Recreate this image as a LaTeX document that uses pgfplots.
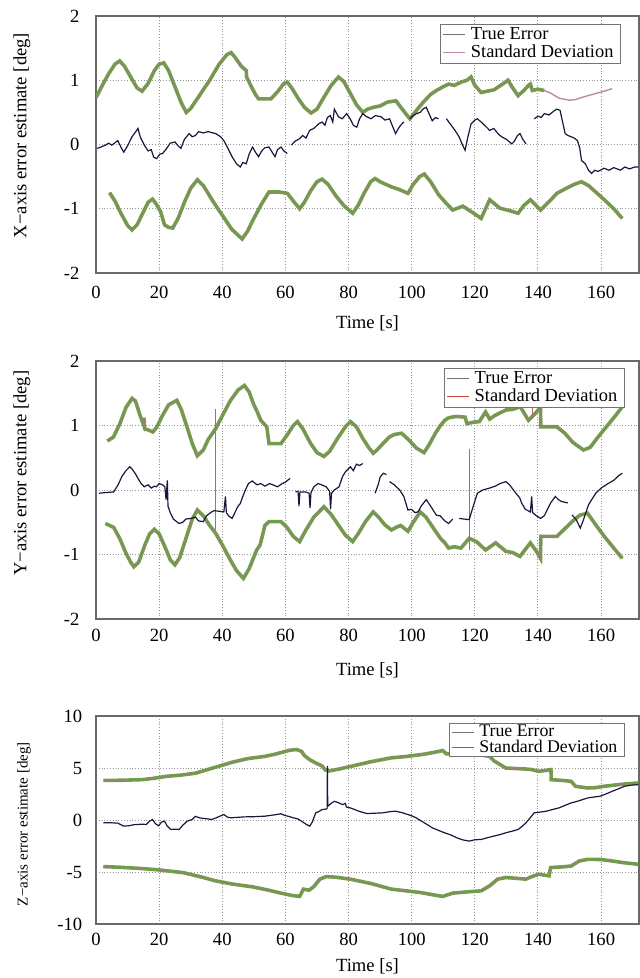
\documentclass[border=0pt]{standalone}
\usepackage{fontspec}
\setmainfont{Liberation Serif}
\usepackage{pgfplots}
\pgfplotsset{compat=1.18}
\definecolor{navy}{RGB}{28,22,62}
\definecolor{sdgreen}{RGB}{112,160,72}
\definecolor{sdthin}{RGB}{150,125,120}
\definecolor{sdpink}{RGB}{190,135,170}
\definecolor{sdred}{RGB}{205,70,60}
\definecolor{sdpurple}{RGB}{150,80,140}
\definecolor{spikec}{RGB}{170,110,100}
\definecolor{gridc}{RGB}{150,150,150}
\definecolor{framec}{RGB}{105,105,105}
\definecolor{legc}{RGB}{115,115,115}
\pgfplotsset{
  panel/.style={
    scale only axis, width=271.5pt, xmin=0, xmax=172,
    anchor=north west,
    xtick={0,20,...,160},
    axis line style={framec, line width=0.9pt},
    grid=major, grid style={gridc, densely dotted, line width=0.5pt},
    major tick length=0pt,
    tick label style={font=\fontsize{9.3}{10}\selectfont},
    /pgf/number format/assume math mode=true,
    label style={font=\fontsize{9.3}{10}\selectfont},
    unbounded coords=jump,
    legend cell align=left,
    legend image code/.code={\draw[##1] (0pt,0pt) -- (11pt,0pt);},
    legend style={draw=legc, line width=0.6pt, fill=white,
      font=\fontsize{9.2}{10}\selectfont, anchor=north east,
      inner xsep=1pt, inner ysep=0.8pt, row sep=0.3pt,
      nodes={inner xsep=2.5pt, inner ysep=0.5pt}},
  },
  sdg/.style={sdgreen, line width=1.8pt, forget plot},
  sdt/.style={sdthin, line width=0.35pt, forget plot},
  te/.style={navy, line width=0.6pt, forget plot},
}
\begin{document}
\begin{tikzpicture}
\useasboundingbox (0,0) rectangle (320pt,-489pt);
% ---------------- Panel 1 : X axis ----------------
\begin{axis}[panel, at={(48pt,-8pt)}, height=128.5pt,
  ymin=-2, ymax=2, ytick={-2,-1,0,1,2},
  xticklabel style={anchor=center, yshift=-9.5pt},
  yticklabel style={anchor=east, xshift=-4.8pt},
  xlabel={Time [s]}, ylabel={X\textminus axis error estimate [deg]},
  xlabel style={at={(axis description cs:0.5,-0.195)}, anchor=center},
  ylabel style={at={(axis description cs:-0.1363,0.535)}, anchor=center, rotate=0},
  legend style={at={(0.967,0.969)}}]
\addplot[sdg] table {
x y
0 0.73
2 0.92
4 1.10
6 1.25
7.5 1.30
9 1.22
11 1.05
13 0.88
14.6 0.83
16.5 0.95
18.5 1.15
20 1.25
21.5 1.27
23 1.15
25 0.90
27 0.65
28.6 0.50
30 0.56
33 0.78
36 1.00
39 1.25
41.5 1.40
42.8 1.43
44 1.36
46 1.22
47.6 1.15
47.7 1.05
49 0.92
50.5 0.78
51.5 0.71
55.4 0.71
57.5 0.82
59.5 0.95
60.6 0.97
62 0.88
64 0.72
66 0.58
68.1 0.49
70 0.55
72 0.72
74.5 0.92
76.8 1.05
78.5 0.98
80.5 0.80
82.5 0.62
84.5 0.50
86 0.55
88 0.58
90 0.60
92.3 0.66
95 0.68
97 0.55
99.4 0.40
101 0.50
103.5 0.65
106 0.78
107.8 0.84
110 0.90
111.7 0.94
113.5 0.92
115.6 0.97
117.5 1.00
118.8 1.05
120 0.92
122 0.81
124 0.83
126 0.85
128.5 0.93
130.5 1.00
132 0.88
133.7 0.76
135.5 0.84
137 0.92
137.6 0.94
138.2 0.84
140 0.86
142 0.84
};
\addplot[sdt] table {
x y
0 0.73
2 0.92
4 1.10
6 1.25
7.5 1.30
9 1.22
11 1.05
13 0.88
14.6 0.83
16.5 0.95
18.5 1.15
20 1.25
21.5 1.27
23 1.15
25 0.90
27 0.65
28.6 0.50
30 0.56
33 0.78
36 1.00
39 1.25
41.5 1.40
42.8 1.43
44 1.36
46 1.22
47.6 1.15
47.7 1.05
49 0.92
50.5 0.78
51.5 0.71
55.4 0.71
57.5 0.82
59.5 0.95
60.6 0.97
62 0.88
64 0.72
66 0.58
68.1 0.49
70 0.55
72 0.72
74.5 0.92
76.8 1.05
78.5 0.98
80.5 0.80
82.5 0.62
84.5 0.50
86 0.55
88 0.58
90 0.60
92.3 0.66
95 0.68
97 0.55
99.4 0.40
101 0.50
103.5 0.65
106 0.78
107.8 0.84
110 0.90
111.7 0.94
113.5 0.92
115.6 0.97
117.5 1.00
118.8 1.05
120 0.92
122 0.81
124 0.83
126 0.85
128.5 0.93
130.5 1.00
132 0.88
133.7 0.76
135.5 0.84
137 0.92
137.6 0.94
138.2 0.84
140 0.86
142 0.84
};
\addplot[sdpink, line width=0.7pt, forget plot] table {
x y
142 0.84
144 0.80
146.7 0.72
149.9 0.69
152 0.70
154.4 0.74
158 0.79
161 0.83
163.5 0.87
};
\addplot[sdg] table {
x y
4.3 -0.75
6 -0.88
8 -1.08
10 -1.26
11.4 -1.33
13 -1.25
15 -1.05
16.5 -0.90
17.9 -0.85
19 -0.92
20.5 -1.05
21.7 -1.25
23 -1.29
24.3 -1.30
26 -1.15
28 -0.90
30 -0.68
32.1 -0.55
34 -0.64
37 -0.88
40 -1.10
43 -1.32
46.3 -1.47
48 -1.35
50 -1.15
52.5 -0.92
54.8 -0.74
58 -0.74
60.6 -0.76
62.5 -0.88
64.5 -1.00
66 -0.90
68 -0.72
70 -0.58
71.6 -0.54
73.5 -0.62
76 -0.80
78.5 -0.95
81.3 -1.07
83 -0.95
85 -0.75
87 -0.58
88.4 -0.53
90 -0.58
93.6 -0.66
96 -0.70
98.8 -0.76
100.5 -0.62
102.5 -0.50
104 -0.46
106 -0.58
108.5 -0.78
111 -0.92
113 -1.02
116.2 -0.96
119 -1.05
122 -1.15
124.7 -0.86
127.9 -0.99
131 -1.03
133.7 -1.07
135.5 -0.95
137.6 -0.86
140.8 -1.02
144.1 -0.86
146 -0.76
149 -0.68
151.5 -0.62
153.8 -0.58
156 -0.64
158.3 -0.74
161 -0.86
164 -1.00
166.7 -1.15
};
\addplot[sdt] table {
x y
4.3 -0.75
6 -0.88
8 -1.08
10 -1.26
11.4 -1.33
13 -1.25
15 -1.05
16.5 -0.90
17.9 -0.85
19 -0.92
20.5 -1.05
21.7 -1.25
23 -1.29
24.3 -1.30
26 -1.15
28 -0.90
30 -0.68
32.1 -0.55
34 -0.64
37 -0.88
40 -1.10
43 -1.32
46.3 -1.47
48 -1.35
50 -1.15
52.5 -0.92
54.8 -0.74
58 -0.74
60.6 -0.76
62.5 -0.88
64.5 -1.00
66 -0.90
68 -0.72
70 -0.58
71.6 -0.54
73.5 -0.62
76 -0.80
78.5 -0.95
81.3 -1.07
83 -0.95
85 -0.75
87 -0.58
88.4 -0.53
90 -0.58
93.6 -0.66
96 -0.70
98.8 -0.76
100.5 -0.62
102.5 -0.50
104 -0.46
106 -0.58
108.5 -0.78
111 -0.92
113 -1.02
116.2 -0.96
119 -1.05
122 -1.15
124.7 -0.86
127.9 -0.99
131 -1.03
133.7 -1.07
135.5 -0.95
137.6 -0.86
140.8 -1.02
144.1 -0.86
146 -0.76
149 -0.68
151.5 -0.62
153.8 -0.58
156 -0.64
158.3 -0.74
161 -0.86
164 -1.00
166.7 -1.15
};
\addplot[te] table {
x y
0.4 -0.06
1.5 -0.04
3 -0.01
4 0.02
5 -0.01
6.9 0.06
8 -0.05
8.8 -0.12
10 -0.02
11.4 0.12
12.3 0.18
13.3 0.25
14 0.12
15.3 -0.01
16.5 -0.10
17.5 -0.08
18.3 -0.20
19.2 -0.22
20.2 -0.15
21.1 -0.14
22.4 -0.06
23.5 0.02
25 0.04
26 -0.02
26.9 -0.06
28 0.08
29.5 0.17
30.5 0.12
31.5 0.14
32.5 0.20
34 0.18
35.5 0.20
37.9 0.17
39.5 0.12
40.5 0.06
41.8 -0.06
43.1 -0.19
44.5 -0.30
45.7 -0.35
46.5 -0.28
47.6 -0.30
48.5 -0.15
49.6 -0.04
50.5 -0.12
51.5 -0.19
52.5 -0.10
53.5 -0.05
54.8 -0.04
55.8 -0.12
56.7 -0.19
57.5 -0.08
58.6 -0.04
59.5 -0.10
60.6 -0.14
nan nan
61.9 -0.01
63 0.05
64.5 0.09
65.5 0.14
66.5 0.10
67.7 0.22
69 0.25
70.5 0.32
71.6 0.35
72.5 0.30
73.3 0.42
74.2 0.45
75 0.35
75.5 0.55
76.8 0.43
78 0.40
79.4 0.48
80.5 0.40
81.5 0.30
82.6 0.27
83.5 0.40
84.5 0.48
85.5 0.44
87.1 0.40
88.5 0.45
90.4 0.43
91.5 0.38
93 0.40
93.8 0.30
94.9 0.17
95.8 0.25
96.5 0.30
97.5 0.35
nan nan
99.4 0.40
100.5 0.45
101.5 0.48
102.7 0.50
103.5 0.55
104.6 0.58
105.5 0.48
106.5 0.37
107.5 0.42
108.5 0.40
nan nan
111 0.40
112.5 0.30
113.7 0.22
115 0.12
116.2 -0.02
116.9 -0.09
117.8 0.12
118.8 0.32
120 0.38
120.8 0.40
122 0.35
123.5 0.28
124.7 0.22
126 0.25
127.5 0.16
128.5 0.12
130 0.08
131.7 0.01
132.5 0.05
133.5 0.14
134.3 0.17
135.2 0.08
136.2 0.01
nan nan
138.8 0.40
140 0.44
141 0.42
142 0.48
143.5 0.46
145 0.52
146 0.55
147 0.53
147.8 0.35
148.6 0.17
149.5 0.14
150.5 0.12
151.5 0.10
152.5 0.06
153.2 -0.05
153.8 -0.25
155 -0.30
156 -0.40
157 -0.45
158 -0.40
159 -0.42
160.9 -0.37
162.5 -0.40
164 -0.36
166.1 -0.40
167.5 -0.35
169 -0.38
170.6 -0.35
171.8 -0.35
};
\addlegendimage{legc, line width=0.6pt}
\addlegendentry{True Error}
\addlegendimage{sdpink, line width=0.6pt}
\addlegendentry{Standard Deviation}
\end{axis}
% ---------------- Panel 2 : Y axis ----------------
\begin{axis}[panel, at={(48pt,-180.5pt)}, height=129pt,
  ymin=-2, ymax=2, ytick={-2,-1,0,1,2},
  xticklabel style={anchor=center, yshift=-8pt},
  yticklabel style={anchor=east, xshift=-4.8pt},
  xlabel={Time [s]}, ylabel={Y\textminus axis error estimate [deg]},
  xlabel style={at={(axis description cs:0.5,-0.198)}, anchor=center},
  ylabel style={at={(axis description cs:-0.1363,0.565)}, anchor=center},
  legend style={at={(0.974,0.973)}}]
\addplot[sdg] table {
x y
3.6 0.76
5.5 0.82
7.5 1.02
9.5 1.28
11.4 1.42
12.5 1.38
14 1.15
15 1.02
15.2 1.12
15.4 0.95
16.6 0.93
18 0.90
19.2 0.97
21 1.15
23 1.32
25.6 1.39
27 1.25
29 0.95
30.5 0.72
32.1 0.53
34 0.62
35.5 0.78
37.9 0.95
40 1.15
42.5 1.38
45 1.55
47 1.62
48.5 1.52
50 1.32
51 1.22
52.2 1.08
54.1 0.98
54.8 0.72
58.6 0.72
60.5 0.85
62.5 1.00
63.8 1.06
65.5 0.95
68 0.72
70 0.58
72.2 0.52
74 0.60
76.5 0.80
79 0.98
80.6 1.06
82.5 0.98
84.5 0.80
86.5 0.65
87.8 0.57
89 0.62
90.5 0.70
92.9 0.82
94.5 0.86
96.8 0.88
99 0.78
101.5 0.65
103.9 0.58
105.5 0.70
107.5 0.88
109.1 1.00
110.5 1.08
111.7 1.12
114 1.14
116.9 1.13
117.5 1.03
119.5 1.05
121.4 1.06
123.4 1.21
124.7 1.10
126.5 1.16
129.8 1.24
132 1.25
134.4 1.29
135.5 1.20
137 1.08
139 1.18
140.8 1.28
140.9 0.98
146 0.98
148.5 0.88
151 0.74
154.4 0.62
156.5 0.66
159 0.82
162 1.00
164.5 1.15
166.7 1.29
};
\addplot[sdt] table {
x y
3.6 0.76
5.5 0.82
7.5 1.02
9.5 1.28
11.4 1.42
12.5 1.38
14 1.15
15 1.02
15.2 1.12
15.4 0.95
16.6 0.93
18 0.90
19.2 0.97
21 1.15
23 1.32
25.6 1.39
27 1.25
29 0.95
30.5 0.72
32.1 0.53
34 0.62
35.5 0.78
37.9 0.95
40 1.15
42.5 1.38
45 1.55
47 1.62
48.5 1.52
50 1.32
51 1.22
52.2 1.08
54.1 0.98
54.8 0.72
58.6 0.72
60.5 0.85
62.5 1.00
63.8 1.06
65.5 0.95
68 0.72
70 0.58
72.2 0.52
74 0.60
76.5 0.80
79 0.98
80.6 1.06
82.5 0.98
84.5 0.80
86.5 0.65
87.8 0.57
89 0.62
90.5 0.70
92.9 0.82
94.5 0.86
96.8 0.88
99 0.78
101.5 0.65
103.9 0.58
105.5 0.70
107.5 0.88
109.1 1.00
110.5 1.08
111.7 1.12
114 1.14
116.9 1.13
117.5 1.03
119.5 1.05
121.4 1.06
123.4 1.21
124.7 1.10
126.5 1.16
129.8 1.24
132 1.25
134.4 1.29
135.5 1.20
137 1.08
139 1.18
140.8 1.28
140.9 0.98
146 0.98
148.5 0.88
151 0.74
154.4 0.62
156.5 0.66
159 0.82
162 1.00
164.5 1.15
166.7 1.29
};
\addplot[sdg] table {
x y
3 -0.52
5.6 -0.58
7.5 -0.75
9.5 -0.98
11 -1.12
12 -1.19
13.5 -1.12
15.5 -0.85
17 -0.68
18.5 -0.61
20 -0.68
22 -0.90
23.5 -1.08
25 -1.16
26.5 -1.05
28.5 -0.75
30.5 -0.45
32.1 -0.31
34 -0.40
36 -0.55
37.9 -0.67
40 -0.85
42.5 -1.08
44.5 -1.25
46.7 -1.37
48.5 -1.22
50.9 -0.93
52 -0.85
53.5 -0.55
54.8 -0.49
58.6 -0.49
60.5 -0.58
62.5 -0.72
64.5 -0.80
66.5 -0.62
69 -0.42
72.2 -0.26
74.5 -0.38
77 -0.56
79 -0.70
81.3 -0.80
83 -0.68
85.5 -0.48
87.8 -0.34
89.5 -0.42
91.5 -0.54
93.6 -0.62
95 -0.58
96.5 -0.55
98.8 -0.64
100.5 -0.50
102.7 -0.34
104.5 -0.42
107 -0.60
109.1 -0.75
110.5 -0.82
111.7 -0.90
113.5 -0.88
115.6 -0.90
118.2 -0.75
120.5 -0.80
123.4 -0.93
126.6 -0.82
129.8 -0.95
132 -0.97
134.3 -1.03
136 -0.92
137.6 -0.82
139.5 -0.95
140.8 -1.06
140.9 -0.72
146 -0.72
148.5 -0.60
151 -0.48
153.3 -0.39
155.7 -0.36
158 -0.52
161 -0.72
164 -0.90
166.7 -1.06
};
\addplot[sdt] table {
x y
3 -0.52
5.6 -0.58
7.5 -0.75
9.5 -0.98
11 -1.12
12 -1.19
13.5 -1.12
15.5 -0.85
17 -0.68
18.5 -0.61
20 -0.68
22 -0.90
23.5 -1.08
25 -1.16
26.5 -1.05
28.5 -0.75
30.5 -0.45
32.1 -0.31
34 -0.40
36 -0.55
37.9 -0.67
40 -0.85
42.5 -1.08
44.5 -1.25
46.7 -1.37
48.5 -1.22
50.9 -0.93
52 -0.85
53.5 -0.55
54.8 -0.49
58.6 -0.49
60.5 -0.58
62.5 -0.72
64.5 -0.80
66.5 -0.62
69 -0.42
72.2 -0.26
74.5 -0.38
77 -0.56
79 -0.70
81.3 -0.80
83 -0.68
85.5 -0.48
87.8 -0.34
89.5 -0.42
91.5 -0.54
93.6 -0.62
95 -0.58
96.5 -0.55
98.8 -0.64
100.5 -0.50
102.7 -0.34
104.5 -0.42
107 -0.60
109.1 -0.75
110.5 -0.82
111.7 -0.90
113.5 -0.88
115.6 -0.90
118.2 -0.75
120.5 -0.80
123.4 -0.93
126.6 -0.82
129.8 -0.95
132 -0.97
134.3 -1.03
136 -0.92
137.6 -0.82
139.5 -0.95
140.8 -1.06
140.9 -0.72
146 -0.72
148.5 -0.60
151 -0.48
153.3 -0.39
155.7 -0.36
158 -0.52
161 -0.72
164 -0.90
166.7 -1.06
};
\addplot[spikec, line width=0.5pt, forget plot] table {
x y
37.9 1.26
37.9 -0.62
nan nan
118.2 0.64
118.2 -0.93
nan nan
138.2 1.10
138.2 1.39
};
\addplot[te] table {
x y
1 -0.05
3 -0.04
5.6 -0.03
7 0.08
8.2 0.21
9.5 0.30
10.7 0.36
11.5 0.32
12.5 0.25
13.3 0.18
14.3 0.10
15.3 0.05
16.5 0.08
17.5 0.03
18.5 0.06
19.2 0.05
20 0.10
21.1 0.08
21.8 0.05
22.2 -0.15
22.6 0.15
22.8 -0.25
23.5 -0.35
24.5 -0.45
26.3 -0.52
27.5 -0.50
28.5 -0.45
30.2 -0.44
31.5 -0.42
32.5 -0.48
34 -0.49
35 -0.40
36.6 -0.34
37.5 -0.32
39 -0.33
40.5 -0.34
41 -0.10
41.3 -0.35
42 -0.40
43.1 -0.44
44 -0.35
45 -0.25
45.7 -0.21
46.5 -0.10
47.5 0.02
48.3 0.10
49.5 0.14
51 0.08
52.2 0.10
53.5 0.06
55 0.10
56 0.08
57.5 0.05
59 0.10
59.9 0.12
61.5 0.18
nan nan
63.2 -0.03
64 -0.02
64.3 -0.25
64.6 -0.03
66.4 -0.03
67.5 -0.05
67.8 -0.28
68.1 -0.04
69 0.05
70.3 0.10
71.5 0.08
72.9 0.05
74 -0.02
74.3 -0.30
74.6 -0.05
75.5 0.00
77 0.05
78.1 0.21
79 0.28
80.6 0.36
81.5 0.30
82.5 0.40
83.5 0.38
84.5 0.41
nan nan
88.4 -0.05
89.5 0.10
90 0.20
91 0.26
92 0.24
nan nan
93 0.13
94.5 0.08
96.2 0.00
97.5 -0.10
98.8 -0.31
100 -0.30
101 -0.35
102 -0.34
103 -0.25
104.6 -0.15
106 -0.25
107.8 -0.39
109 -0.40
110.5 -0.48
111.7 -0.52
113 -0.45
nan nan
115 -0.44
116.5 -0.45
118.2 -0.46
119.5 -0.25
120.8 -0.05
122.5 0.00
124.7 0.03
126.5 0.06
128 0.10
129.8 0.13
131 0.08
133 -0.05
134.2 -0.12
134.9 -0.21
136 -0.30
137.6 -0.34
138 -0.10
138.3 -0.35
139.5 -0.40
140.8 -0.44
142 -0.40
142.9 -0.31
144 -0.20
145.5 -0.10
146.5 -0.15
147.5 -0.18
149.5 -0.20
nan nan
150.8 -0.39
152 -0.45
153.4 -0.59
154.5 -0.45
156 -0.23
157 -0.15
158.3 -0.05
160 0.03
162.2 0.10
164 0.15
165.5 0.22
166.7 0.26
};
\addlegendimage{legc, line width=0.6pt}
\addlegendentry{True Error}
\addlegendimage{sdred, line width=0.6pt}
\addlegendentry{Standard Deviation}
\end{axis}
% ---------------- Panel 3 : Z axis ----------------
\begin{axis}[panel, at={(48pt,-358pt)}, height=104pt,
  ymin=-10, ymax=10, ytick={-10,-5,0,5,10},
  xticklabel style={anchor=center, yshift=-7.5pt},
  yticklabel style={anchor=east, xshift=-3.4pt},
  xlabel={Time [s]}, ylabel={Z\textminus axis error estimate [deg]},
  xlabel style={at={(axis description cs:0.5,-0.202)}, anchor=center},
  ylabel style={at={(axis description cs:-0.1326,0.48)}, anchor=center,
    font=\fontsize{7.5}{8}\selectfont},
  legend style={at={(0.974,0.966)}, font=\fontsize{8.9}{9.5}\selectfont,
    row sep=-0.6pt, inner ysep=0.4pt, nodes={inner xsep=2.5pt, inner ysep=0.3pt}}]
\addplot[sdg] table {
x y
2.3 3.81
8 3.82
14.6 3.88
18 4.00
22.4 4.20
27 4.32
31.5 4.50
37 5.00
43.1 5.55
48 5.90
53.5 6.12
57 6.35
61.2 6.70
63.5 6.78
65.1 6.60
66 6.20
67.7 5.80
69.5 5.50
71.6 5.20
72.5 4.85
73.5 4.70
77 4.90
81.9 5.24
87 5.60
93.6 5.98
98 6.10
104 6.33
107 6.50
109.8 6.68
111 6.36
115.6 6.33
120 6.28
122 6.25
124.7 6.12
126 5.70
127.2 5.48
129.8 5.00
133 4.95
136.2 4.90
138 4.85
140.2 4.68
142 4.75
144.1 4.84
144.2 3.88
148 3.80
150.5 3.72
151.9 3.24
155.7 3.08
158 3.10
160.9 3.24
164 3.35
167 3.45
171.8 3.56
};
\addplot[sdt] table {
x y
2.3 3.81
8 3.82
14.6 3.88
18 4.00
22.4 4.20
27 4.32
31.5 4.50
37 5.00
43.1 5.55
48 5.90
53.5 6.12
57 6.35
61.2 6.70
63.5 6.78
65.1 6.60
66 6.20
67.7 5.80
69.5 5.50
71.6 5.20
72.5 4.85
73.5 4.70
77 4.90
81.9 5.24
87 5.60
93.6 5.98
98 6.10
104 6.33
107 6.50
109.8 6.68
111 6.36
115.6 6.33
120 6.28
122 6.25
124.7 6.12
126 5.70
127.2 5.48
129.8 5.00
133 4.95
136.2 4.90
138 4.85
140.2 4.68
142 4.75
144.1 4.84
144.2 3.88
148 3.80
150.5 3.72
151.9 3.24
155.7 3.08
158 3.10
160.9 3.24
164 3.35
167 3.45
171.8 3.56
};
\addplot[sdg] table {
x y
2.3 -4.48
8 -4.55
14.6 -4.67
20 -4.80
27.6 -5.06
33 -5.45
37.9 -5.85
43 -6.15
49.6 -6.43
54 -6.70
58.6 -7.03
62 -7.25
64.5 -7.35
65.7 -6.65
67.5 -6.75
69 -6.40
70.9 -5.69
72.9 -5.44
76 -5.50
80.6 -5.69
87 -6.10
93.6 -6.65
98 -6.80
102.7 -6.97
106 -7.15
109.8 -7.35
113 -7.03
118 -6.90
122 -6.81
124.7 -6.33
127.2 -5.69
129.8 -5.53
133 -5.60
136.2 -5.69
138 -5.45
140.2 -5.21
143.5 -5.37
144 -4.57
148 -4.50
150.5 -4.42
153.1 -3.94
155.7 -3.78
160 -3.80
163.5 -3.94
167 -4.10
171.8 -4.26
};
\addplot[sdt] table {
x y
2.3 -4.48
8 -4.55
14.6 -4.67
20 -4.80
27.6 -5.06
33 -5.45
37.9 -5.85
43 -6.15
49.6 -6.43
54 -6.70
58.6 -7.03
62 -7.25
64.5 -7.35
65.7 -6.65
67.5 -6.75
69 -6.40
70.9 -5.69
72.9 -5.44
76 -5.50
80.6 -5.69
87 -6.10
93.6 -6.65
98 -6.80
102.7 -6.97
106 -7.15
109.8 -7.35
113 -7.03
118 -6.90
122 -6.81
124.7 -6.33
127.2 -5.69
129.8 -5.53
133 -5.60
136.2 -5.69
138 -5.45
140.2 -5.21
143.5 -5.37
144 -4.57
148 -4.50
150.5 -4.42
153.1 -3.94
155.7 -3.78
160 -3.80
163.5 -3.94
167 -4.10
171.8 -4.26
};
\addplot[te] table {
x y
2.3 -0.27
5 -0.27
6.9 -0.30
8.8 -0.59
10.5 -0.55
12 -0.45
13.3 -0.43
14.5 -0.40
15.9 -0.43
17 -0.10
17.9 0.05
18.8 -0.35
19.8 -0.55
20.8 -0.20
21.7 -0.11
22.5 -0.55
23.7 -0.91
25 -0.88
26.3 -0.91
27.5 -0.50
28.9 -0.11
30.5 0.05
31.5 0.35
32.8 0.21
34 0.15
35.5 0.10
36.6 0.05
38 0.20
39.5 0.40
40.5 0.53
41.5 0.30
42.5 0.21
44.5 0.25
47 0.30
50 0.32
53.5 0.37
55.5 0.45
57.3 0.53
58.5 0.60
59.9 0.43
61 0.35
62.5 0.21
64 0.10
65.1 -0.11
66.5 -0.40
67.7 -0.59
68.5 -0.20
69.6 0.69
70.5 0.80
71.6 1.00
72.9 1.05
73.2 1.10
73.3 5.21
73.4 1.32
74.5 1.60
75.5 1.80
76.5 1.70
78.1 1.48
79 1.60
79.3 1.25
80.6 1.16
82 1.00
83.2 0.85
85.8 0.62
88 0.65
91 0.69
93 0.80
94.9 0.85
97 0.70
98.8 0.53
100 0.40
101.4 0.21
102.5 0.00
104 -0.27
105.5 -0.55
106.5 -0.75
108.5 -1.00
110.4 -1.23
112.5 -1.45
114.3 -1.71
116 -1.90
118.2 -2.03
120 -1.90
122 -1.87
124 -1.70
126 -1.55
128 -1.40
129.8 -1.23
131.5 -1.10
133.7 -0.91
135 -0.60
136.2 -0.27
137.5 0.20
138.8 0.69
140.5 0.75
142.7 0.85
144.5 1.00
146.6 1.16
148.5 1.40
150.5 1.64
152.5 1.80
155.7 2.12
157.5 2.20
159.6 2.28
161.5 2.50
163.5 2.76
165.5 3.00
167.4 3.24
169.5 3.35
171.8 3.40
};
\addlegendimage{legc, line width=0.6pt}
\addlegendentry{True Error}
\addlegendimage{sdpurple, line width=0.6pt}
\addlegendentry{Standard Deviation}
\end{axis}
\end{tikzpicture}
\end{document}
